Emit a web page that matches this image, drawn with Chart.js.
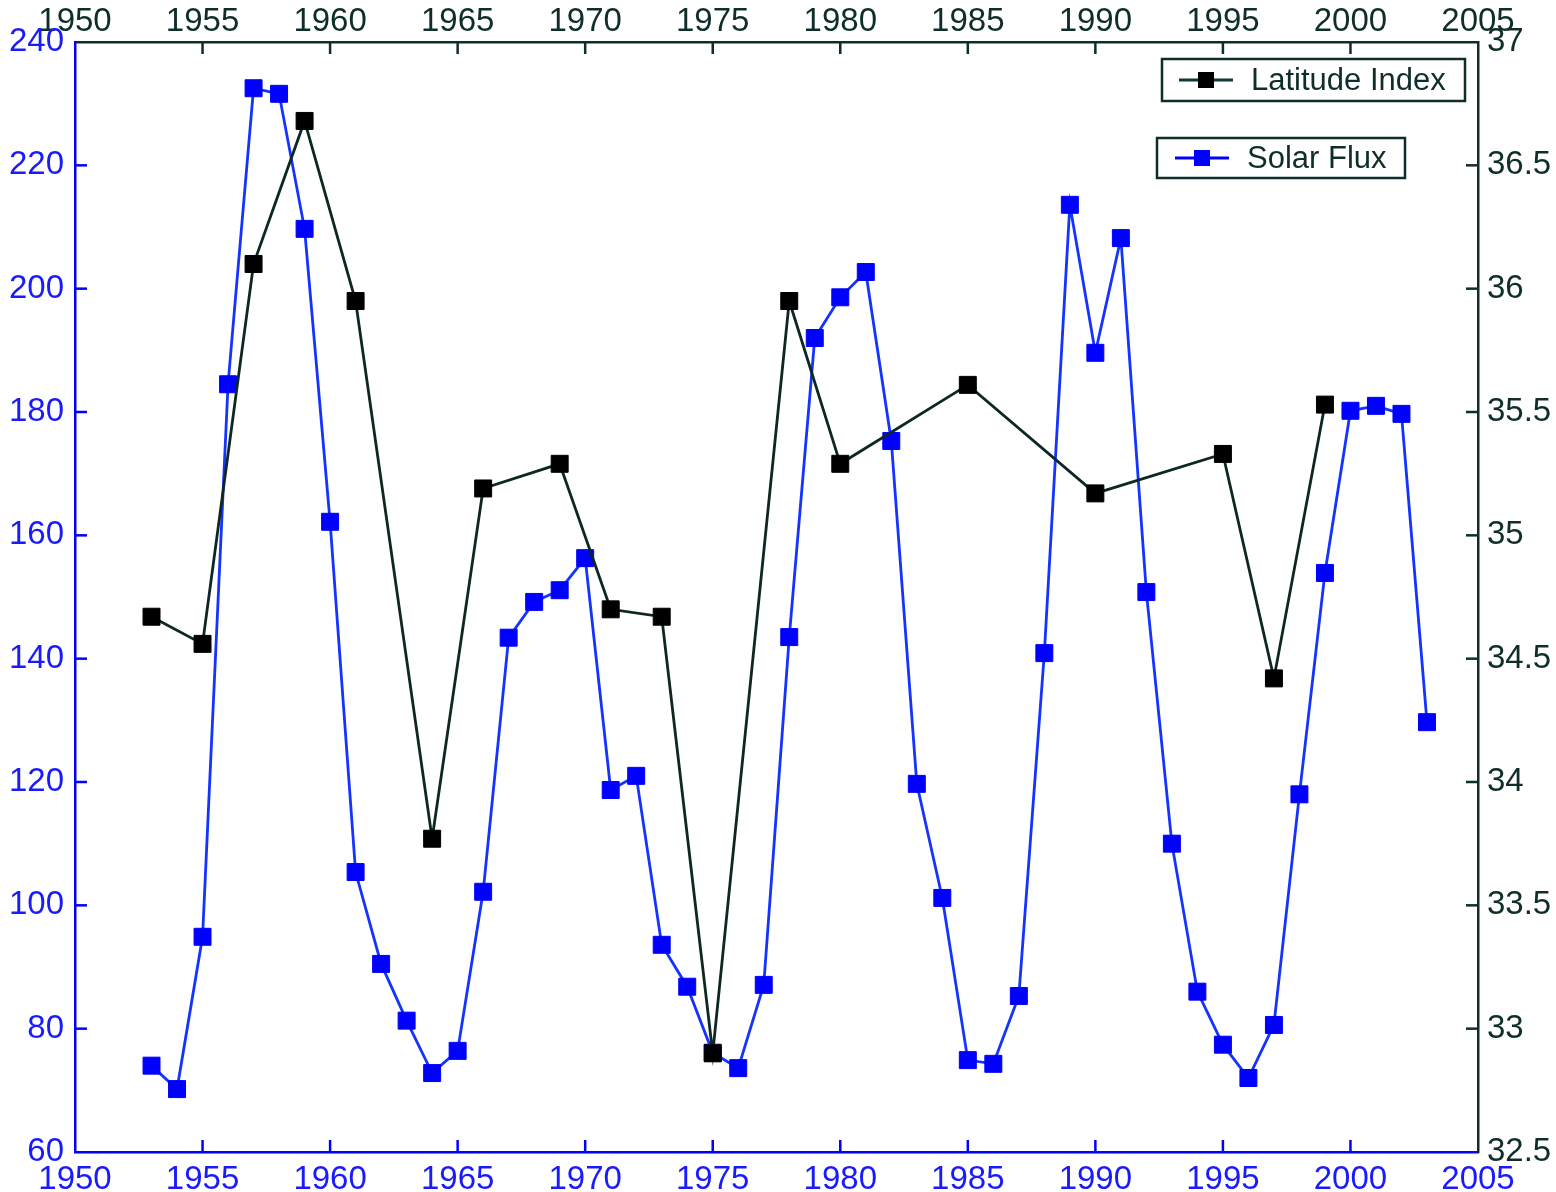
<!DOCTYPE html>
<html>
<head>
<meta charset="utf-8">
<script src="https://cdn.jsdelivr.net/npm/chart.js@4/dist/chart.umd.min.js"></script>
<style>
  html, body { margin: 0; padding: 0; background: #fff; }
  #wrap { width: 1556px; height: 1192px; }
</style>
</head>
<body>
<div id="wrap"><canvas id="fluxChart" width="1556" height="1192"></canvas></div>
<script>
// Solar flux, yearly (left axis)
const solarYears = [1953, 1954, 1955, 1956, 1957, 1958, 1959, 1960, 1961, 1962,
    1963, 1964, 1965, 1966, 1967, 1968, 1969, 1970, 1971, 1972,
    1973, 1974, 1975, 1976, 1977, 1978, 1979, 1980, 1981, 1982,
    1983, 1984, 1985, 1986, 1987, 1988, 1989, 1990, 1991, 1992,
    1993, 1994, 1995, 1996, 1997, 1998, 1999, 2000, 2001, 2002, 2003];
const solarFlux = [74.0, 70.2, 94.9, 184.5, 232.5, 231.6, 209.7, 162.2, 105.4, 90.5,
    81.3, 72.8, 76.4, 102.2, 143.4, 149.2, 151.1, 156.3, 118.7, 121.0,
    93.6, 86.8, 76.1, 73.6, 87.1, 143.5, 192.0, 198.6, 202.7, 175.3,
    119.7, 101.2, 74.9, 74.3, 85.3, 140.9, 213.6, 189.6, 208.2, 150.8,
    110.0, 86.0, 77.4, 72.0, 80.6, 118.0, 153.9, 180.2, 181.0, 179.7, 129.7];

// Latitude index (right axis)
const latYears = [1953, 1955, 1957, 1959, 1961, 1964, 1966, 1969, 1971, 1973,
    1975, 1978, 1980, 1985, 1990, 1995, 1997, 1999];
const latIndex = [34.67, 34.56, 36.10, 36.68, 35.95, 33.77, 35.19, 35.29, 34.70, 34.67,
    32.90, 35.95, 35.29, 35.61, 35.17, 35.33, 34.42, 35.53];

const BLUE = '#0000ff';
const BLUE_TEXT = '#1a1aff';
const DARK = '#0f2e2b';
const FONT = 'Liberation Sans, Arial, sans-serif';

const toPoints = (xs, ys) => xs.map((x, i) => ({ x: x, y: ys[i] }));

// inward tick marks + the two boxed legends
const decorPlugin = {
    id: 'decor',
    afterDraw(chart) {
        const ctx = chart.ctx;
        const a = chart.chartArea;
        const len = 12;
        ctx.save();
        ctx.lineWidth = 2.5;

        const sx = chart.scales.x, sx2 = chart.scales.x2;
        const sy = chart.scales.y, sy2 = chart.scales.y2;

        ctx.strokeStyle = BLUE;
        sx.ticks.forEach(t => {
            if (t.value <= sx.min || t.value >= sx.max) return;
            const px = sx.getPixelForValue(t.value);
            ctx.beginPath(); ctx.moveTo(px, a.bottom); ctx.lineTo(px, a.bottom - len); ctx.stroke();
        });
        sy.ticks.forEach(t => {
            if (t.value <= sy.min || t.value >= sy.max) return;
            const py = sy.getPixelForValue(t.value);
            ctx.beginPath(); ctx.moveTo(a.left, py); ctx.lineTo(a.left + len, py); ctx.stroke();
        });

        ctx.strokeStyle = DARK;
        sx2.ticks.forEach(t => {
            if (t.value <= sx2.min || t.value >= sx2.max) return;
            const px = sx2.getPixelForValue(t.value);
            ctx.beginPath(); ctx.moveTo(px, a.top); ctx.lineTo(px, a.top + len); ctx.stroke();
        });
        sy2.ticks.forEach(t => {
            if (t.value <= sy2.min || t.value >= sy2.max) return;
            const py = sy2.getPixelForValue(t.value);
            ctx.beginPath(); ctx.moveTo(a.right, py); ctx.lineTo(a.right - len, py); ctx.stroke();
        });

        // legends
        const boxes = [
            { x: 1162, y: 59, w: 303, h: 42, line: '#0f3a36', mark: '#000', label: 'Latitude Index', lx: 1179 },
            { x: 1157, y: 138, w: 248, h: 40, line: BLUE, mark: BLUE, label: 'Solar Flux', lx: 1175 }
        ];
        boxes.forEach(b => {
            ctx.fillStyle = '#fff';
            ctx.fillRect(b.x, b.y, b.w, b.h);
            ctx.strokeStyle = DARK;
            ctx.lineWidth = 2.5;
            ctx.strokeRect(b.x, b.y, b.w, b.h);
            const cy = b.y + b.h / 2;
            ctx.strokeStyle = b.line;
            ctx.lineWidth = 3;
            ctx.beginPath(); ctx.moveTo(b.lx, cy); ctx.lineTo(b.lx + 54, cy); ctx.stroke();
            ctx.fillStyle = b.mark;
            ctx.fillRect(b.lx + 27 - 8, cy - 8, 16, 16);
            ctx.fillStyle = DARK;
            ctx.font = '31px ' + FONT;
            ctx.textAlign = 'left';
            ctx.textBaseline = 'middle';
            ctx.fillText(b.label, b.lx + 72, cy + 1);
        });
        ctx.restore();
    }
};

const ctx = document.getElementById('fluxChart').getContext('2d');

new Chart(ctx, {
    type: 'line',
    data: {
        datasets: [
            {
                label: 'Latitude Index',
                data: toPoints(latYears, latIndex),
                yAxisID: 'y2',
                xAxisID: 'x',
                borderColor: '#0d2724',
                borderWidth: 2.8,
                pointStyle: 'rect',
                pointRadius: 12,
                pointBackgroundColor: '#000',
                pointBorderColor: '#000',
                pointBorderWidth: 1,
                fill: false,
                tension: 0,
                order: 0
            },
            {
                label: 'Solar Flux',
                data: toPoints(solarYears, solarFlux),
                yAxisID: 'y',
                xAxisID: 'x',
                borderColor: '#1533ff',
                borderWidth: 2.8,
                pointStyle: 'rect',
                pointRadius: 12,
                pointBackgroundColor: BLUE,
                pointBorderColor: BLUE,
                pointBorderWidth: 1,
                fill: false,
                tension: 0,
                order: 1
            }
        ]
    },
    options: {
        responsive: false,
        animation: false,
        layout: { padding: 0 },
        plugins: {
            legend: { display: false },
            tooltip: { enabled: false }
        },
        scales: {
            x: {
                type: 'linear',
                position: 'bottom',
                min: 1950,
                max: 2005,
                ticks: {
                    stepSize: 5,
                    color: BLUE_TEXT,
                    font: { family: FONT, size: 33 },
                    padding: 8,
                    maxRotation: 0,
                    callback: v => String(v)
                },
                grid: { display: false, drawTicks: false },
                border: { display: true, color: BLUE, width: 2.5 },
                afterFit: s => { s.height = 40; }
            },
            x2: {
                type: 'linear',
                position: 'top',
                min: 1950,
                max: 2005,
                ticks: {
                    stepSize: 5,
                    color: DARK,
                    font: { family: FONT, size: 33 },
                    padding: 0,
                    maxRotation: 0,
                    callback: v => String(v)
                },
                grid: { display: false, drawTicks: false },
                border: { display: true, color: DARK, width: 2.5 },
                afterFit: s => { s.height = 42; }
            },
            y: {
                type: 'linear',
                position: 'left',
                min: 60,
                max: 240,
                ticks: {
                    stepSize: 20,
                    color: BLUE_TEXT,
                    font: { family: FONT, size: 33 },
                    padding: 11,
                    callback: v => String(v)
                },
                grid: { display: false, drawTicks: false },
                border: { display: true, color: BLUE, width: 2.5 },
                afterFit: s => { s.width = 75; }
            },
            y2: {
                type: 'linear',
                position: 'right',
                min: 32.5,
                max: 37,
                ticks: {
                    stepSize: 0.5,
                    color: DARK,
                    font: { family: FONT, size: 33 },
                    padding: 9,
                    callback: v => String(v)
                },
                grid: { display: false, drawTicks: false },
                border: { display: true, color: DARK, width: 2.5 },
                afterFit: s => { s.width = 78; }
            }
        }
    },
    plugins: [decorPlugin]
});
</script>
</body>
</html>
